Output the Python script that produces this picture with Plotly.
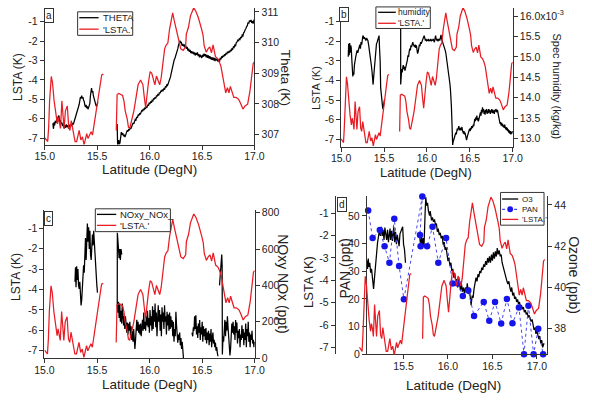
import plotly.graph_objects as go

W, H = 592, 401
FONT = "Liberation Sans, Arial, sans-serif"
TXT = "#222222"
AX = "#333333"
RED = "rgb(232,28,36)"
BLUE = "rgb(20,20,235)"

# ---------------- data (latitude in DegN) ----------------
# LSTA (K); None marks the data gap
lsta_lat = [15.000, 15.012, 15.028, 15.037, 15.046, 15.062, 15.074, 15.089, 15.104, 15.120,
            15.129, 15.141, 15.150, 15.163, 15.175, 15.184, 15.197, 15.215, 15.228, 15.240,
            15.252, 15.264, 15.276, 15.289, 15.304, 15.316, 15.328, 15.344, 15.359, 15.375,
            15.387, 15.400, 15.412, 15.427, 15.442, 15.455, 15.467, 15.485, 15.498, 15.510,
            15.528, 15.543, 15.559, None,
            15.682, 15.690, 15.706, 15.730, 15.742, 15.755, 15.767, 15.786, 15.798, 15.810,
            15.830, 15.850, 15.870, 15.890, 15.914, 15.936, 15.950, 15.962, 15.990, 16.005,
            16.020, 16.035, 16.050, 16.065, 16.080, 16.096, 16.110, 16.128, 16.143, 16.158,
            16.174, 16.190, 16.205, 16.220, 16.235, 16.250, 16.266, 16.280, 16.297, 16.320,
            16.343, 16.350, 16.370, 16.389, 16.405, 16.420, 16.440, 16.465, 16.496, 16.510,
            16.520, 16.540, 16.557, 16.574, 16.590, 16.605, 16.628, 16.650, 16.665, 16.680,
            16.695, 16.710, 16.726, 16.742, 16.757, 16.770, 16.787, 16.803, 16.825, 16.849,
            16.865, 16.890, 16.910, 16.935, 16.957, 16.972, 16.988, 17.000]
lsta_val = [-6.98, -7.09, -7.17, -6.43, -5.08, -3.82, -4.16, -5.08, -5.76, -6.27,
            -5.93, -6.18, -6.50, -5.08, -6.00, -6.50, -5.59, -5.34, -6.43, -6.60,
            -6.10, -6.43, -6.93, -7.17, -7.17, -6.93, -6.60, -7.09, -6.93, -7.34,
            -7.09, -6.76, -7.01, -6.84, -6.67, -6.84, -6.43, -5.93, -5.42, -4.92,
            -4.25, -3.74, -3.70, None,
            -6.60, -4.75, -4.70, -4.75, -4.80, -5.08, -5.59, -6.00, -6.43, -6.50,
            -6.10, -5.59, -4.92, -4.25, -4.00, -4.25, -4.92, -5.42, -4.08, -3.57,
            -3.65, -3.99, -4.25, -3.80, -4.00, -4.25, -3.90, -3.07, -2.40, -2.20,
            -2.10, -1.39, -0.90, -0.55, -0.95, -1.30, -1.64, -1.98, -2.40, -2.48,
            -2.30, -1.64, -1.30, -0.71, -0.45, -0.29, -0.45, -0.80, -1.39, -1.70,
            -2.23, -2.57, -2.40, -2.30, -2.60, -2.20, -2.80, -2.90, -3.07, -3.30,
            -3.74, -4.16, -4.66, -4.40, -4.66, -4.33, -4.70, -4.90, -4.90, -5.00,
            -5.17, -5.50, -5.34, -5.25, -4.58, -4.00, -3.15, -3.07]

# Potential temperature THETA (K)
theta_lat = [15.077, 15.083, 15.088, 15.094, 15.100, 15.107, 15.114, 15.120, 15.127, 15.135,
             15.141, 15.148, 15.155, 15.162, 15.170, 15.177, 15.184, 15.191, 15.198, 15.206,
             15.213, 15.220, 15.227, 15.234, 15.241, 15.250, 15.257, 15.264, 15.272, 15.280,
             15.289, 15.298, 15.306, 15.314, 15.321, 15.328, 15.334, 15.340, 15.346, 15.352,
             15.358, 15.364, 15.370, 15.376, 15.382, 15.388, 15.394, 15.400, 15.406, 15.412,
             15.418, 15.424, 15.430, 15.435, 15.440, 15.446, 15.452, 15.458, 15.464, 15.470,
             15.476, 15.482, 15.488, 15.494, 15.500, 15.507, None,
             15.690, 15.692, 15.695, 15.700, 15.705, 15.712, 15.718, 15.724, 15.730, 15.737,
             15.744, 15.751, 15.758, 15.765, 15.772, 15.779, 15.786, 15.793, 15.800, 15.807,
             15.814, 15.821, 15.828, 15.835, 15.842, 15.849, 15.856, 15.863, 15.870, 15.877,
             15.884, 15.891, 15.898, 15.905, 15.912, 15.919, 15.926, 15.933, 15.940, 15.947,
             15.954, 15.961, 15.968, 15.975, 15.982, 15.989, 15.996, 16.003, 16.010, 16.017,
             16.024, 16.031, 16.038, 16.045, 16.052, 16.059, 16.066, 16.073, 16.080, 16.087,
             16.094, 16.101, 16.108, 16.115, 16.122, 16.129, 16.136, 16.143, 16.150, 16.157,
             16.164, 16.171, 16.178, 16.185, 16.192, 16.199, 16.206, 16.213, 16.220, 16.227,
             16.234, 16.241, 16.248, 16.255, 16.262, 16.269, 16.276, 16.283, 16.290, 16.296,
             16.302, 16.309, 16.316, 16.323, 16.330, 16.337, 16.344, 16.351, 16.358, 16.365,
             16.372, 16.379, 16.386, 16.393, 16.400, 16.407, 16.414, 16.421, 16.428, 16.435,
             16.442, 16.449, 16.456, 16.463, 16.470, 16.477, 16.484, 16.491, 16.498, 16.505,
             16.512, 16.519, 16.526, 16.533, 16.540, 16.547, 16.554, 16.561, 16.568, 16.575,
             16.582, 16.589, 16.596, 16.603, 16.610, 16.617, 16.624, 16.631, 16.638, 16.645,
             16.652, 16.659, 16.666, 16.673, 16.680, 16.687, 16.694, 16.701, 16.708, 16.715,
             16.722, 16.729, 16.736, 16.743, 16.750, 16.757, 16.764, 16.771, 16.778, 16.785,
             16.792, 16.799, 16.806, 16.813, 16.820, 16.827, 16.834, 16.841, 16.848, 16.855,
             16.862, 16.869, 16.876, 16.883, 16.890, 16.897, 16.904, 16.911, 16.918, 16.925,
             16.932, 16.939, 16.946, 16.953, 16.960, 16.967, 16.974, 16.981, 16.988, 16.995,
             17.002]
theta_val = [307.37, 307.19, 307.40, 307.30, 307.45, 307.38, 307.51, 307.45, 307.58, 307.62,
             307.42, 307.48, 307.35, 307.40, 307.28, 307.35, 307.20, 307.30, 307.22, 307.33,
             307.25, 307.30, 307.20, 307.32, 307.26, 307.34, 307.28, 307.38, 307.33, 307.42,
             307.50, 307.56, 307.68, 307.80, 307.90, 307.99, 308.12, 308.22, 308.20, 308.27,
             308.18, 308.22, 308.12, 308.08, 307.96, 307.90, 307.97, 307.86, 307.92, 307.83,
             307.88, 307.95, 308.02, 308.25, 308.45, 308.52, 308.38, 308.42, 308.26, 308.16,
             308.10, 308.03, 307.96, 307.92, 307.98, 308.05, None,
             307.35, 306.95, 306.65, 306.70, 306.82, 306.68, 306.75, 306.98, 307.08, 307.00,
             307.05, 306.95, 306.98, 306.92, 307.02, 307.08, 307.14, 307.10, 307.18, 307.14,
             307.22, 307.19, 307.28, 307.30, 307.38, 307.35, 307.45, 307.50, 307.48, 307.58,
             307.55, 307.65, 307.62, 307.70, 307.66, 307.74, 307.80, 307.76, 307.84, 307.80,
             307.88, 307.84, 307.92, 307.88, 307.98, 307.94, 308.04, 308.00, 308.08, 308.04,
             308.12, 308.10, 308.18, 308.15, 308.22, 308.18, 308.28, 308.25, 308.33, 308.28,
             308.38, 308.35, 308.43, 308.40, 308.47, 308.44, 308.50, 308.47, 308.56, 308.55,
             308.62, 308.60, 308.66, 308.72, 308.80, 308.88, 309.00, 309.12, 309.27, 309.35,
             309.43, 309.48, 309.55, 309.62, 309.72, 309.80, 309.92, 310.00, 310.06, 309.98,
             310.02, 309.90, 309.96, 309.88, 309.94, 309.84, 309.90, 309.80, 309.86, 309.74,
             309.80, 309.70, 309.76, 309.66, 309.72, 309.64, 309.70, 309.62, 309.68, 309.58,
             309.66, 309.60, 309.68, 309.56, 309.62, 309.52, 309.60, 309.55, 309.50, 309.60,
             309.54, 309.64, 309.56, 309.62, 309.52, 309.60, 309.50, 309.58, 309.48, 309.56,
             309.46, 309.52, 309.44, 309.52, 309.42, 309.50, 309.40, 309.48, 309.42, 309.46,
             309.38, 309.45, 309.36, 309.50, 309.45, 309.55, 309.50, 309.58, 309.54, 309.62,
             309.58, 309.66, 309.62, 309.70, 309.66, 309.72, 309.68, 309.76, 309.72, 309.80,
             309.78, 309.86, 309.84, 309.92, 309.90, 310.00, 310.02, 310.08, 310.05, 310.12,
             310.10, 310.18, 310.15, 310.24, 310.22, 310.32, 310.35, 310.42, 310.45, 310.52,
             310.55, 310.66, 310.62, 310.72, 310.68, 310.74, 310.64, 310.70, 310.62, 310.72,
             310.70]

# Specific humidity (units of 1e-3 kg/kg)
hum_lat = [15.083, 15.088, 15.094, 15.100, 15.106, 15.112, 15.118, 15.124, 15.130, 15.136,
           15.142, 15.148, 15.155, 15.162, 15.170, 15.178, 15.186, 15.194, 15.202, 15.210,
           15.218, 15.225, 15.232, 15.240, 15.247, 15.254, 15.260, 15.266, 15.272, 15.280,
           15.288, 15.296, 15.304, 15.312, 15.320, 15.328, 15.336, 15.344, 15.352, 15.360,
           15.367, 15.373, 15.379, 15.386, 15.392, 15.398, 15.405, 15.412, 15.420, 15.428,
           15.436, 15.442, 15.448, 15.455, 15.461, 15.470, 15.477, 15.483, 15.488, 15.494,
           15.500, 15.506, None,
           15.694, 15.694, 15.700, 15.706, 15.712, 15.718, 15.724, 15.730, 15.737, 15.744,
           15.751, 15.758, 15.765, 15.772, 15.779, 15.786, 15.793, 15.800, 15.807, 15.814,
           15.821, 15.828, 15.835, 15.842, 15.849, 15.856, 15.863, 15.870, 15.877, 15.884,
           15.891, 15.898, 15.905, 15.912, 15.919, 15.926, 15.933, 15.940, 15.947, 15.954,
           15.961, 15.968, 15.975, 15.982, 15.989, 15.996, 16.003, 16.010, 16.017, 16.024,
           16.031, 16.038, 16.045, 16.052, 16.059, 16.066, 16.073, 16.080, 16.087, 16.094,
           16.101, 16.108, 16.115, 16.122, 16.129, 16.136, 16.143, 16.150, 16.157, 16.164,
           16.171, 16.178, 16.185, 16.192, 16.199, 16.206, 16.213, 16.220, 16.227, 16.234,
           16.241, 16.248, 16.255, 16.262, 16.268, 16.274, 16.280, 16.285, 16.290, 16.295,
           16.300, 16.306, 16.312, 16.318, 16.324, 16.330, 16.336, 16.342, 16.348, 16.354,
           16.360, 16.366, 16.372, 16.378, 16.384, 16.390, 16.396, 16.402, 16.408, 16.414,
           16.420, 16.426, 16.432, 16.438, 16.444, 16.450, 16.456, 16.462, 16.468, 16.474,
           16.480, 16.486, 16.492, 16.498, 16.504, 16.510, 16.516, 16.522, 16.528, 16.534,
           16.540, 16.546, 16.552, 16.558, 16.564, 16.570, 16.576, 16.582, 16.588, 16.594,
           16.600, 16.606, 16.612, 16.618, 16.624, 16.630, 16.636, 16.642, 16.648, 16.654,
           16.660, 16.666, 16.672, 16.678, 16.684, 16.690, 16.696, 16.702, 16.708, 16.714,
           16.720, 16.726, 16.732, 16.738, 16.744, 16.750, 16.756, 16.762, 16.768, 16.774,
           16.780, 16.786, 16.792, 16.798, 16.804, 16.810, 16.816, 16.822, 16.828, 16.834,
           16.840, 16.846, 16.852, 16.858, 16.864, 16.870, 16.876, 16.882, 16.888, 16.894,
           16.900, 16.906, 16.912, 16.918, 16.924, 16.930, 16.936, 16.942, 16.948, 16.954,
           16.960, 16.966, 16.972, 16.978, 16.984, 16.990, 16.996, 17.002]
hum_val = [15.00, 15.32, 15.04, 15.34, 15.10, 15.28, 15.22, 14.96, 14.80, 14.52,
           14.62, 14.56, 14.80, 14.96, 15.00, 15.08, 15.16, 15.10, 15.22, 15.24,
           15.30, 15.20, 15.36, 15.30, 15.42, 15.52, 15.50, 15.44, 15.48, 15.44,
           15.40, 15.46, 15.44, 15.40, 15.30, 15.20, 15.04, 14.92, 14.80, 14.64,
           14.45, 14.32, 14.50, 14.70, 14.90, 15.04, 15.20, 15.32, 15.36, 15.44,
           15.48, 15.52, 15.20, 14.90, 14.24, 13.96, 13.88, 13.78, 13.72, 13.78,
           13.84, 13.96, None,
           15.76, 14.32, 14.50, 14.70, 14.62, 14.72, 14.80, 14.70, 14.76, 14.66,
           14.72, 14.78, 14.80, 14.92, 15.04, 15.00, 15.12, 15.20, 15.16, 15.28,
           15.24, 15.32, 15.36, 15.30, 15.26, 15.24, 15.30, 15.22, 15.28, 15.14,
           15.08, 15.12, 15.22, 15.30, 15.26, 15.36, 15.32, 15.38, 15.42, 15.44,
           15.48, 15.52, 15.46, 15.40, 15.44, 15.38, 15.42, 15.40, 15.44, 15.38,
           15.42, 15.40, 15.44, 15.38, 15.42, 15.40, 15.44, 15.40, 15.36, 15.44,
           15.52, 15.44, 15.40, 15.44, 15.38, 15.42, 15.44, 15.40, 15.48, 15.54,
           15.44, 15.40, 15.36, 15.32, 15.28, 15.22, 15.16, 15.10, 15.00, 14.86,
           14.76, 14.62, 14.50, 14.44, 14.34, 14.20, 14.04, 13.80, 13.50, 13.20,
           12.84, 12.92, 12.96, 13.00, 13.04, 13.08, 13.14, 13.10, 13.20, 13.24,
           13.20, 13.28, 13.30, 13.24, 13.20, 13.26, 13.20, 13.24, 13.28, 13.20,
           13.16, 13.12, 13.18, 13.10, 13.14, 13.06, 13.00, 12.96, 13.02, 13.10,
           13.08, 13.16, 13.20, 13.24, 13.18, 13.26, 13.22, 13.30, 13.26, 13.28,
           13.34, 13.30, 13.40, 13.48, 13.42, 13.52, 13.46, 13.56, 13.44, 13.50,
           13.42, 13.52, 13.48, 13.58, 13.64, 13.56, 13.70, 13.62, 13.76, 13.66,
           13.72, 13.60, 13.68, 13.58, 13.70, 13.64, 13.72, 13.60, 13.68, 13.62,
           13.72, 13.64, 13.70, 13.60, 13.68, 13.64, 13.72, 13.62, 13.70, 13.62,
           13.68, 13.60, 13.70, 13.66, 13.72, 13.66, 13.64, 13.70, 13.62, 13.56,
           13.50, 13.40, 13.36, 13.40, 13.32, 13.38, 13.30, 13.36, 13.28, 13.32,
           13.26, 13.34, 13.28, 13.22, 13.28, 13.20, 13.26, 13.18, 13.22, 13.14,
           13.20, 13.12, 13.18, 13.10, 13.16, 13.12, 13.18, 13.14]

# NOxy_NOx_ (ppt); the flight track doubles back near 15.7 DegN
nox_lat = [15.290, 15.295, 15.300, 15.306, 15.312, 15.318, 15.324, 15.330, 15.336, 15.342,
           15.348, 15.354, 15.360, 15.366, 15.372, 15.378, 15.384, 15.390, 15.396, 15.402,
           15.408, 15.414, 15.420, 15.426, 15.432, 15.438, 15.444, 15.450, 15.456, 15.462,
           15.468, 15.474, 15.480, 15.486, 15.492, 15.498, 15.504, None,
           15.735, 15.728, 15.722, 15.716, 15.710, 15.704, 15.698, 15.693, 15.692, 15.698,
           15.704, 15.710, 15.716, 15.722, 15.728, 15.734, 15.740, 15.746, 15.752, 15.758,
           15.764, 15.770, 15.776, 15.782, 15.788, 15.794, 15.800, 15.806, 15.812, 15.818,
           15.824, 15.830, 15.836, 15.842, 15.848, 15.854, 15.860, 15.866, 15.872, 15.878,
           15.884, 15.890, 15.896, 15.902, 15.908, 15.914, 15.920, 15.926, 15.932, 15.938,
           15.944, 15.950, 15.956, 15.962, 15.968, 15.974, 15.980, 15.986, 15.992, 15.998,
           16.004, 16.010, 16.016, 16.022, 16.028, 16.034, 16.040, 16.046, 16.052, 16.058,
           16.064, 16.070, 16.076, 16.082, 16.088, 16.094, 16.100, 16.106, 16.112, 16.118,
           16.124, 16.130, 16.136, 16.142, 16.148, 16.154, 16.160, 16.166, 16.172, 16.178,
           16.184, 16.190, 16.196, 16.202, 16.208, 16.214, 16.220, 16.226, 16.232, 16.238,
           16.244, 16.250, 16.256, 16.262, 16.268, 16.274, 16.280, 16.286, 16.292, 16.298,
           16.304, 16.310, 16.316, 16.322, None,
           16.403, 16.410, 16.416, 16.422, 16.428, 16.434, 16.440, 16.446, 16.452, 16.458,
           16.464, 16.470, 16.476, 16.482, 16.488, 16.494, 16.500, 16.506, 16.512, 16.518,
           16.524, 16.530, 16.536, 16.542, 16.548, 16.554, 16.560, 16.566, 16.572, 16.578,
           16.584, 16.590, 16.596, 16.602, 16.608, 16.614, 16.620, 16.626, 16.632, 16.638,
           16.644, 16.650, None,
           16.665, 16.672, 16.680, 16.686, 16.690, 16.692, 16.698, 16.704, 16.710, 16.716,
           16.722, 16.728, 16.734, 16.740, 16.746, 16.752, 16.758, 16.764, 16.770, 16.776,
           16.782, 16.788, 16.794, 16.800, 16.806, 16.812, 16.818, 16.824, 16.830, 16.836,
           16.842, 16.848, 16.854, 16.860, 16.866, 16.872, 16.878, 16.884, 16.890, 16.896,
           16.902, 16.908, 16.914, 16.920, 16.926, 16.932, 16.938, 16.944, 16.950, 16.956,
           16.962, 16.968, 16.974, 16.980, 16.986, 16.992, 16.998]
nox_val = [420, 500, 390, 505, 430, 490, 400, 380, 420, 350,
           290, 320, 400, 460, 510, 470, 560, 660, 540, 620,
           740, 640, 720, 600, 700, 570, 540, 610, 680, 620,
           700, 640, 560, 520, 450, 400, 360, None,
           570, 600, 540, 600, 550, 620, 650, 690, 285, 250,
           310, 220, 300, 200, 260, 190, 300, 250, 180, 230,
           160, 230, 190, 140, 195, 130, 190, 150, 200, 120,
           175, 100, 150, 90, 160, 80, 50, 100, 165, 210,
           150, 200, 140, 185, 130, 190, 120, 175, 210, 150,
           250, 160, 200, 150, 230, 180, 260, 170, 220, 140,
           265, 180, 230, 150, 285, 160, 265, 200, 300, 170,
           250, 120, 230, 290, 200, 265, 150, 240, 120, 280,
           200, 250, 160, 290, 200, 230, 130, 255, 180, 240,
           150, 250, 160, 230, 170, 210, 120, 200, 90, 160,
           120, 255, 180, 120, 85, 130, 100, 140, 70, 110,
           50, 90, 30, 0, None,
           140, 120, 170, 150, 230, 160, 235, 130, 175, 110,
           190, 140, 210, 100, 170, 130, 200, 90, 175, 120,
           160, 100, 165, 80, 140, 100, 150, 70, 135, 90,
           160, 60, 110, 140, 80, 100, 60, 85, 40, 60,
           30, 10, None,
           400, 460, 520, 570, 510, 20, 120, 90, 160, 210,
           120, 200, 150, 230, 170, 120, 60, 15, 50, 120,
           190, 140, 200, 130, 175, 100, 210, 140, 195, 80,
           150, 110, 160, 60, 130, 100, 180, 110, 160, 70,
           140, 100, 190, 60, 160, 120, 200, 90, 140, 60,
           130, 100, 150, 80, 100, 60, 90]

# Ozone O3 (ppb)
o3_lat = [15.087, 15.095, 15.103, 15.110, 15.120, 15.130, 15.140, 15.152, 15.163, 15.174,
          15.185, 15.196, 15.207, 15.218, 15.228, 15.239, 15.250, 15.260, 15.270, 15.280,
          15.290, 15.300, 15.310, 15.320, 15.330, 15.348, 15.355, 15.365, 15.375, 15.390,
          15.400, 15.410, 15.420, 15.430, 15.440, 15.450, 15.460, 15.478, 15.490, 15.500,
          15.511, 15.522, None,
          15.678, 15.690, 15.700, 15.710, 15.720, 15.730, 15.743, 15.750, 15.760, 15.770,
          15.780, 15.793, 15.800, 15.815, 15.825, 15.837, 15.848, 15.859, 15.870, 15.880,
          15.890, 15.902, 15.913, 15.924, 15.935, 15.946, 15.957, 15.967, 15.978, 15.989,
          16.000, 16.011, 16.022, 16.033, 16.043, 16.054, 16.065, 16.076, 16.087, 16.098,
          16.109, 16.120, 16.130, 16.141, 16.152, 16.163, 16.174, 16.185, 16.196, 16.207,
          16.217, 16.228, 16.239, 16.250, 16.260, 16.272, 16.282, 16.293, 16.304, 16.315,
          16.326, 16.337, 16.347, 16.358, 16.369, 16.380, 16.391, 16.402, 16.413, 16.424,
          16.435, 16.446, 16.457, 16.467, 16.478, 16.489, 16.500, 16.511, 16.522, 16.533,
          16.544, 16.554, 16.565, 16.576, 16.587, 16.598, 16.609, 16.620, 16.630, 16.641,
          16.652, 16.663, 16.674, 16.685, 16.696, 16.707, 16.717, 16.728, 16.739, 16.750,
          16.761, 16.772, 16.783, 16.793, 16.804, 16.815, 16.826, 16.837, 16.848, 16.859,
          16.870, 16.880, 16.891, 16.902, 16.913, 16.924, 16.935, 16.946, 16.957, 16.968,
          16.979, 16.989, 17.000, 17.011, 17.022, 17.032, 17.043, 17.054, 17.065, 17.080]
o3_val = [41.30, 40.90, 41.40, 41.00, 41.20, 40.72, 40.90, 40.40, 39.93, 40.50,
          41.20, 41.67, 42.15, 42.47, 42.78, 42.50, 42.94, 42.50, 42.80, 42.30,
          42.90, 42.60, 42.30, 42.80, 42.20, 42.86, 42.30, 42.75, 42.25, 42.94,
          42.20, 42.70, 42.10, 42.55, 42.30, 42.00, 42.60, 42.86, 42.94, 42.10,
          41.83, 41.20, None,
          42.70, 42.10, 42.60, 41.90, 42.40, 42.00, 43.65, 44.37, 43.97, 44.10,
          43.70, 43.49, 43.70, 43.25, 43.40, 43.18, 43.30, 43.02, 43.10, 42.70,
          42.85, 42.54, 42.65, 42.38, 42.50, 42.07, 42.20, 41.83, 41.95, 41.59,
          41.28, 41.45, 41.04, 41.20, 40.80, 40.90, 40.48, 40.70, 40.33, 40.40,
          40.00, 40.50, 40.10, 39.85, 40.15, 39.80, 40.00, 39.70, 40.00, 39.80,
          40.20, 39.69, 40.00, 39.38, 39.14, 39.61, 39.50, 39.93, 40.20, 40.48,
          40.30, 40.64, 40.50, 40.80, 40.70, 40.96, 40.85, 41.12, 41.00, 41.28,
          41.10, 41.43, 41.20, 41.51, 41.20, 41.59, 41.30, 41.70, 41.40, 41.75,
          41.50, 41.91, 41.60, 41.80, 41.51, 41.60, 41.20, 41.00, 40.80, 40.60,
          40.48, 40.30, 40.17, 40.30, 40.00, 39.80, 40.00, 39.61, 39.75, 39.45,
          39.55, 39.30, 39.42, 39.20, 39.30, 39.05, 39.15, 38.95, 39.05, 38.80,
          38.90, 38.70, 38.78, 38.55, 38.65, 38.45, 38.35, 38.45, 38.15, 37.95,
          38.05, 37.75, 37.90, 37.60, 37.50, 37.65, 37.30, 37.45, 37.10, 37.30]

# PAN (ppt), in sampling order
pan_lat = [15.102, 15.152, 15.233, 15.287, 15.341, 15.396, 15.450, 15.504, 15.711, 15.685,
           15.692, 15.765, 15.826, 15.891, 15.978, 16.051, 16.109, 16.167, 16.228, 16.293,
           16.402, 16.464, 16.529, 16.598, 16.663, 16.725, 16.798, 16.855, 16.905, 16.963,
           17.015, 17.070]
pan_val = [52.0, 42.0, 44.9, 39.0, 33.1, 49.0, 31.9, 19.9, 57.0, 43.1,
           39.0, 39.0, 46.1, 33.1, 42.0, 25.6, 25.6, 21.0, 23.0, 13.8,
           18.9, 12.1, 18.9, 11.1, 20.0, 11.2, 16.9, 0.0, 17.5, 0.0,
           9.2, 0.0]

# tick values / labels
lat_ticks = [15.0, 15.5, 16.0, 16.5, 17.0]
lsta_ticks = [-1, -2, -3, -4, -5, -6, -7]
lsta_ticktext = ["-1", "-2", "-3", "-4", "-5", "-6", "-7"]
theta_ticks = [307, 308, 309, 310, 311]
hum_ticks = [13.0, 13.5, 14.0, 14.5, 15.0, 15.5, 16.0]
hum_ticktext = ["13.0", "13.5", "14.0", "14.5", "15.0", "15.5", "16.0x10<sup>-3</sup>"]
nox_ticks = [0, 200, 400, 600, 800]
pan_ticks = [0, 10, 20, 30, 40, 50]
o3_ticks = [38, 40, 42, 44]


def px_x(v):
    return v / W


def px_y(v):
    return 1 - v / H


fig = go.Figure()

LW = 1.25
# ---- panel a
fig.add_trace(go.Scatter(x=theta_lat, y=theta_val, mode="lines", line=dict(color="black", width=LW),
                         xaxis="x", yaxis="y", showlegend=False, connectgaps=False))
fig.add_trace(go.Scatter(x=lsta_lat, y=lsta_val, mode="lines", line=dict(color=RED, width=LW),
                         xaxis="x", yaxis="y2", showlegend=False, connectgaps=False))
# ---- panel b
fig.add_trace(go.Scatter(x=hum_lat, y=hum_val, mode="lines", line=dict(color="black", width=LW),
                         xaxis="x2", yaxis="y3", showlegend=False, connectgaps=False))
fig.add_trace(go.Scatter(x=lsta_lat, y=lsta_val, mode="lines", line=dict(color=RED, width=LW),
                         xaxis="x2", yaxis="y4", showlegend=False, connectgaps=False))
# ---- panel c
fig.add_trace(go.Scatter(x=nox_lat, y=nox_val, mode="lines", line=dict(color="black", width=LW),
                         xaxis="x3", yaxis="y5", showlegend=False, connectgaps=False))
fig.add_trace(go.Scatter(x=lsta_lat, y=lsta_val, mode="lines", line=dict(color=RED, width=LW),
                         xaxis="x3", yaxis="y6", showlegend=False, connectgaps=False))
# ---- panel d
fig.add_trace(go.Scatter(x=o3_lat, y=o3_val, mode="lines", line=dict(color="black", width=LW),
                         xaxis="x4", yaxis="y7", showlegend=False, connectgaps=False))
fig.add_trace(go.Scatter(x=pan_lat, y=pan_val, mode="lines+markers",
                         line=dict(color="rgb(70,70,235)", width=1, dash="dot"),
                         marker=dict(color=BLUE, size=6.5),
                         xaxis="x4", yaxis="y8", showlegend=False, cliponaxis=False))
fig.add_trace(go.Scatter(x=lsta_lat, y=lsta_val, mode="lines", line=dict(color=RED, width=LW),
                         xaxis="x5", yaxis="y9", showlegend=False, connectgaps=False))

TF = dict(family=FONT, size=10.5, color=TXT)


def xax(d0, d1, rng, anchor):
    return dict(domain=[px_x(d0), px_x(d1)], range=rng, anchor=anchor,
                showline=True, linecolor=AX, linewidth=1, mirror=False,
                ticks="outside", ticklen=4, tickcolor=AX, tickwidth=1,
                tickvals=lat_ticks, tickformat=".1f", tickfont=TF,
                ticklabelstandoff=-2,
                showgrid=False, zeroline=False)


def yax(t, b, rng, tickvals, ticktext, side, anchor, overlaying=None):
    d = dict(domain=[px_y(b), px_y(t)], range=rng, anchor=anchor, side=side,
             showline=True, linecolor=AX, linewidth=1,
             ticks="outside", ticklen=4, tickcolor=AX, tickwidth=1,
             tickvals=tickvals, ticktext=ticktext, tickfont=TF,
             showgrid=False, zeroline=False)
    if overlaying:
        d["overlaying"] = overlaying
    return d


layout = dict(
    width=W, height=H, autosize=False,
    margin=dict(l=0, r=0, t=0, b=0, pad=0),
    paper_bgcolor="white", plot_bgcolor="rgba(0,0,0,0)",
    showlegend=False,
    font=dict(family=FONT, color=TXT),
)

# panel a
layout["xaxis"] = xax(36, 253, [15.0, 17.0], "y")
layout["yaxis"] = yax(5, 144.5, [306.675, 311.13], theta_ticks, [str(v) for v in theta_ticks], "right", "x")
layout["yaxis2"] = yax(5, 144.5, [-7.33, -0.29], lsta_ticks, lsta_ticktext, "left", "x", overlaying="y")
# panel b
layout["xaxis2"] = xax(342.7, 520.3, [15.0, 17.0], "y3")
layout["yaxis3"] = yax(5, 146.5, [12.80, 16.20], hum_ticks, hum_ticktext, "right", "x2")
layout["yaxis4"] = yax(5, 146.5, [-7.375, -0.30], lsta_ticks, lsta_ticktext, "left", "x2", overlaying="y3")
# panel c
layout["xaxis3"] = xax(35.7, 253.3, [15.0, 17.0], "y5")
layout["yaxis5"] = yax(211, 362.7, [-2.2, 816], nox_ticks, [str(v) for v in nox_ticks], "right", "x3")
layout["yaxis6"] = yax(211, 362.7, [-7.39, -0.083], lsta_ticks, lsta_ticktext, "left", "x3", overlaying="y5")
# panel d
layout["xaxis4"] = xax(369.3, 556, [15.087, 17.116], "y7")
layout["yaxis7"] = yax(197, 358.5, [36.76, 44.43], o3_ticks, [str(v) for v in o3_ticks], "right", "x4")
layout["yaxis8"] = yax(197, 358.5, [-0.07, 57.2], pan_ticks, [str(v) for v in pan_ticks], "left", "x4", overlaying="y7")
layout["xaxis5"] = dict(domain=[px_x(337), px_x(556)], range=[14.742, 17.028], anchor="y9",
                        showline=False, showticklabels=False, ticks="", showgrid=False, zeroline=False)
layout["yaxis9"] = yax(197, 358.5, [-7.297, -0.245], lsta_ticks, lsta_ticktext, "left", "x5")

# ---- axis titles (annotations)
ann = []


def txt(text, x, y, size, angle=0, **kw):
    d = dict(text=text, x=px_x(x), y=px_y(y), xref="paper", yref="paper", showarrow=False,
             textangle=angle, font=dict(family=FONT, size=size, color=TXT),
             xanchor="center", yanchor="middle")
    d.update(kw)
    ann.append(d)


txt("LSTA (K)", 7.7, 75, 12, -90)
txt("Theta (K)", 285, 76.7, 13.5, 90)
txt("Latitude (DegN)", 144.2, 170, 13.5)

txt("LSTA (K)", 316.7, 86.7, 11, -90)
txt("Spec humidity (kg/kg)", 566, 85, 11, 90)
txt("Latitude (DegN)", 431, 172.5, 13)

txt("LSTA (K)", 6.7, 279, 12, -90)
txt("NOxy NOx (ppt)", 283, 287.3, 14, 90)
txt("Latitude (DegN)", 144, 389, 13.5)

txt("LSTA (K)", 309, 285, 13, -90)
txt("PAN (ppt)", 347, 270.7, 14, -90)
txt("Ozone (ppb)", 583, 278, 14, 90)
txt("Latitude (DegN)", 458.5, 390.5, 13.5)

# panel letters
for letter, cx, cy in [("a", 40, 13), ("b", 346, 12), ("c", 40, 220), ("d", 343.5, 206)]:
    txt(letter, cx, cy, 10, bordercolor=AX, borderwidth=1, borderpad=1, bgcolor="white")

# ---- legend boxes
shapes = []


def legend(x0, y0, x1, y1, rows, lx0, lx1, tx, size):
    shapes.append(dict(type="rect", xref="paper", yref="paper", x0=px_x(x0), x1=px_x(x1),
                       y0=px_y(y1), y1=px_y(y0), line=dict(color=AX, width=1),
                       fillcolor="white", layer="above"))
    for label, color, dash, marker, ry in rows:
        shapes.append(dict(type="line", xref="paper", yref="paper", x0=px_x(lx0), x1=px_x(lx1),
                           y0=px_y(ry), y1=px_y(ry), line=dict(color=color, width=1.3, dash=dash),
                           layer="above"))
        if marker:
            cx = (lx0 + lx1) / 2
            r = 3
            shapes.append(dict(type="circle", xref="paper", yref="paper",
                               x0=px_x(cx - r), x1=px_x(cx + r), y0=px_y(ry + r), y1=px_y(ry - r),
                               fillcolor=BLUE, line=dict(color=BLUE, width=0), layer="above"))
        txt(label, tx, ry, size, xanchor="left")


legend(70, 9, 127, 33, [("THETA", "black", "solid", False, 15.0),
                        ("'LSTA.'", RED, "solid", False, 26.7)], 71.7, 91.7, 94, 9.5)
legend(378.7, 4, 435, 26, [("humidity", "black", "solid", False, 9.5),
                           ("'LSTA.'", RED, "solid", False, 20.7)], 381, 399.3, 400, 8.5)
legend(88.3, 210, 166, 233.3, [("NOxy_NOx_", "black", "solid", False, 215.7),
                               ("'LSTA.'", RED, "solid", False, 226.9)], 90, 110, 112, 9.5)
legend(507.7, 193.3, 552.7, 226.7, [("O3", "black", "solid", False, 200),
                                    ("PAN", "rgb(70,70,235)", "dot", True, 210.5),
                                    ("'LSTA.'", RED, "solid", False, 220.8)], 509.3, 526, 527.5, 8)

layout["annotations"] = ann
layout["shapes"] = shapes
fig.update_layout(**layout)

fig.write_html("out.html")
